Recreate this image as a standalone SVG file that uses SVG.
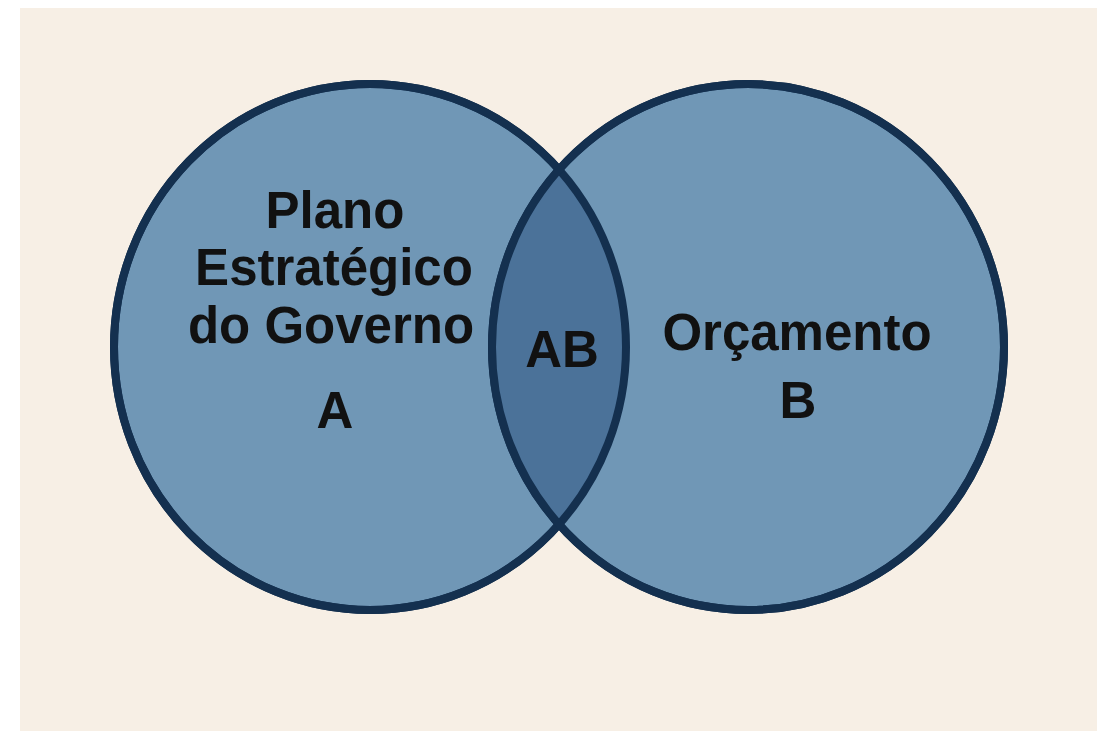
<svg xmlns="http://www.w3.org/2000/svg" width="1097" height="731" viewBox="0 0 1097 731">
<style>
.set{fill:#7097b6;stroke:#14304f;stroke-width:8}
.lens{fill:#4b7299}
.edge{fill:none;stroke:#14304f;stroke-width:8}
text{font-family:"Liberation Sans",Arial,sans-serif;font-weight:bold;fill:#111;text-anchor:middle}
.lbl{font-size:51px}
</style>
<defs>
<clipPath id="clipA"><ellipse cx="370" cy="347" rx="256" ry="263"/></clipPath>
</defs>
<rect x="0" y="0" width="1097" height="731" fill="#ffffff"/>
<rect x="20" y="8" width="1077" height="723" fill="#f7efe5"/>
<g id="setA"><ellipse class="set" cx="370" cy="347" rx="256" ry="263"/></g>
<g id="setB"><ellipse class="set" cx="748" cy="347" rx="256" ry="263"/></g>
<g id="intersection">
<ellipse class="lens" cx="748" cy="347" rx="256" ry="263" clip-path="url(#clipA)"/>
<ellipse class="edge" cx="370" cy="347" rx="256" ry="263"/>
<ellipse class="edge" cx="748" cy="347" rx="256" ry="263"/>
</g>
<g id="labelA">
<text class="lbl" x="335" y="228">Plano</text>
<text class="lbl" x="334" y="285">Estratégico</text>
<text class="lbl" x="331" y="343">do Governo</text>
<text class="lbl" x="335" y="428">A</text>
</g>
<g id="labelAB"><text class="lbl" x="562" y="367">AB</text></g>
<g id="labelB">
<text class="lbl" x="797" y="350">Orçamento</text>
<text class="lbl" x="798" y="418">B</text>
</g>
</svg>
